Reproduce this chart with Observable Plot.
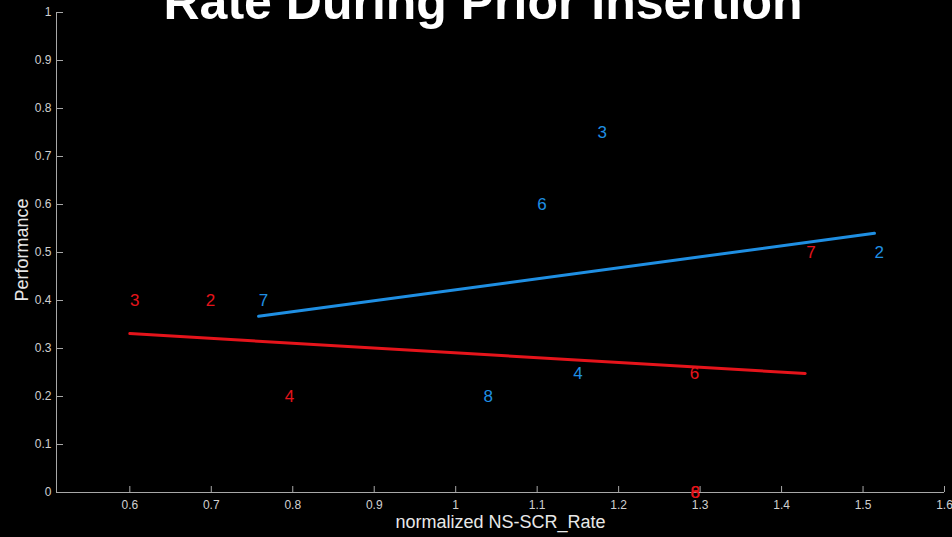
<!DOCTYPE html>
<html>
<head>
<meta charset="utf-8">
<script src="https://cdn.jsdelivr.net/npm/d3@7"></script>
<script src="https://cdn.jsdelivr.net/npm/@observablehq/plot@0.6"></script>
<style>
  html, body { margin: 0; padding: 0; background: #000; overflow: hidden; }
  #wrap { position: relative; width: 952px; height: 537px; overflow: hidden; background: #000; }
  #title { position: absolute; left: 0; width: 966px; top: -23px; text-align: center;
           font: bold 50px "Liberation Sans", Arial, sans-serif; color: #fff; line-height: 1; z-index: 2; white-space: nowrap; }
</style>
</head>
<body>
<div id="wrap"><div id="title">Rate During Prior Insertion</div></div>
<script>
// Data
const redLabels = ["3", "2", "4", "6", "7", "8", "6"];
const redX = [0.606, 0.699, 0.796, 1.293, 1.436, 1.294, 1.294];
const redY = [0.4, 0.4, 0.2, 0.248, 0.5, 0, 0];

const blueLabels = ["7", "8", "4", "6", "3", "2"];
const blueX = [0.764, 1.04, 1.15, 1.106, 1.18, 1.52];
const blueY = [0.4, 0.2, 0.248, 0.6, 0.75, 0.5];

// Fitted lines (endpoints)
const redLineX = [0.6, 1.429];
const redLineY = [0.331, 0.248];
const blueLineX = [0.758, 1.514];
const blueLineY = [0.367, 0.54];

const xTicks = [0.6, 0.7, 0.8, 0.9, 1, 1.1, 1.2, 1.3, 1.4, 1.5, 1.6];
const xTickLabels = ["0.6", "0.7", "0.8", "0.9", "1", "1.1", "1.2", "1.3", "1.4", "1.5", "1.6"];
const yTicks = [0, 0.1, 0.2, 0.3, 0.4, 0.5, 0.6, 0.7, 0.8, 0.9, 1];
const yTickLabels = ["0", "0.1", "0.2", "0.3", "0.4", "0.5", "0.6", "0.7", "0.8", "0.9", "1"];

const xMin = 0.51, xMax = 1.6;
const RED = "#e5141b", BLUE = "#1f8fe3", AXIS = "#a8a8a8", TICKTXT = "#d0d0d0";
const FONT = "Liberation Sans, Arial, Helvetica, sans-serif";

const red = redLabels.map((l, i) => ({l, x: redX[i], y: redY[i]}));
const blue = blueLabels.map((l, i) => ({l, x: blueX[i], y: blueY[i]}));
const redLine = redLineX.map((x, i) => ({x, y: redLineY[i]}));
const blueLine = blueLineX.map((x, i) => ({x, y: blueLineY[i]}));
const xt = xTicks.map((v, i) => ({v, t: xTickLabels[i]}));
const yt = yTicks.map((v, i) => ({v, t: yTickLabels[i]}));

const chart = Plot.plot({
  width: 952,
  height: 537,
  marginLeft: 56,
  marginRight: 8,
  marginTop: 12,
  marginBottom: 45,
  style: {background: "#000", fontFamily: FONT, overflow: "visible"},
  x: {domain: [xMin, xMax], axis: null},
  y: {domain: [0, 1], axis: null},
  marks: [
    // axis lines
    Plot.ruleX([xMin], {y1: 0, y2: 1, stroke: AXIS, strokeWidth: 1}),
    Plot.ruleY([0], {x1: xMin, x2: xMax, stroke: AXIS, strokeWidth: 1}),
    // inward ticks
    Plot.axisY({ticks: yTicks, tickSize: 7, dx: 7, tickFormat: () => "", stroke: AXIS, label: null}),
    Plot.axisX({ticks: xTicks, tickSize: 6, dy: -6, tickFormat: () => "", stroke: AXIS, label: null}),
    // tick labels
    Plot.text(yt, {x: () => xMin, y: "v", text: "t", dx: -5, textAnchor: "end", fill: TICKTXT, fontSize: 12}),
    Plot.text(xt, {x: "v", y: () => 0, text: "t", dy: 13, fill: TICKTXT, fontSize: 12}),
    // axis titles
    Plot.text(["Performance"], {x: () => xMin, y: () => 0.505, rotate: -90, dx: -34, fill: "#e8e8e8", fontSize: 18}),
    Plot.text(["normalized NS-SCR_Rate"], {frameAnchor: "bottom", dy: 35, fill: "#e8e8e8", fontSize: 18}),
    // fitted lines
    Plot.line(blueLine, {x: "x", y: "y", stroke: BLUE, strokeWidth: 3}),
    Plot.line(redLine, {x: "x", y: "y", stroke: RED, strokeWidth: 3}),
    // point labels
    Plot.text(blue, {x: "x", y: "y", text: "l", fill: BLUE, fontSize: 17}),
    Plot.text(red, {x: "x", y: "y", text: "l", fill: RED, fontSize: 17})
  ]
});
document.getElementById("wrap").appendChild(chart);
</script>
</body>
</html>
